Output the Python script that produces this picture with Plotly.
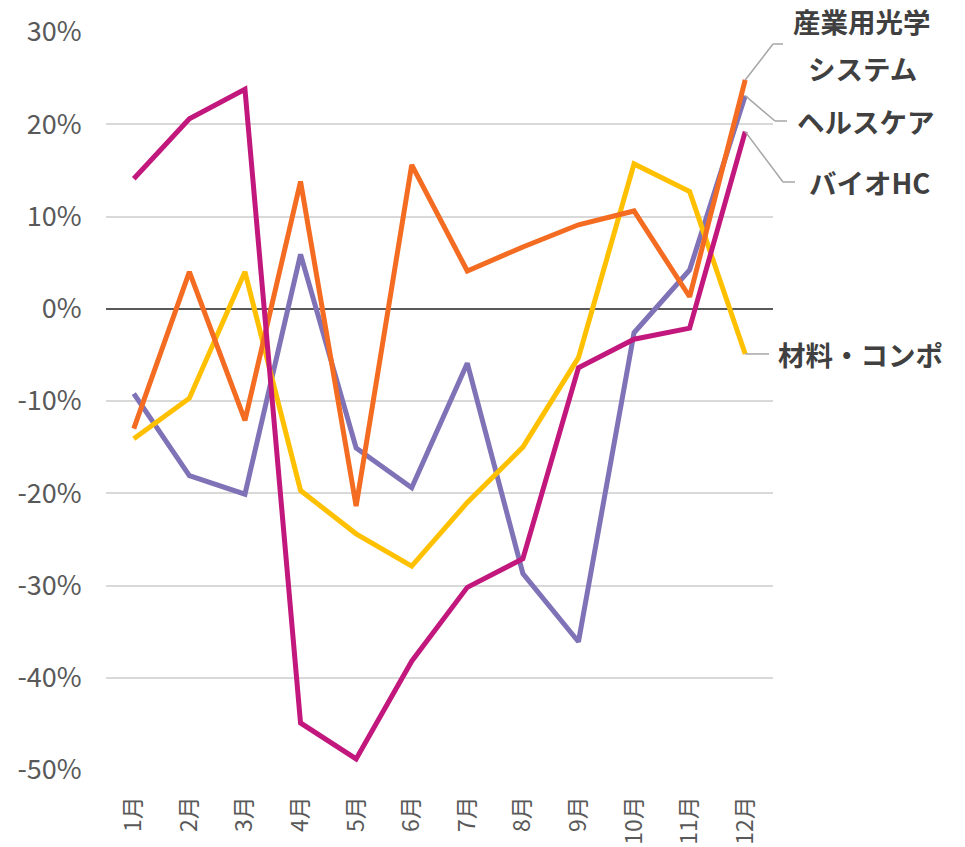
import plotly.graph_objects as go

months = ["1月", "2月", "3月", "4月", "5月", "6月", "7月", "8月", "9月", "10月", "11月", "12月"]

sangyo = [-13.0, 4.0, -12.1, 13.8, -21.4, 15.6, 4.1, 6.7, 9.1, 10.6, 1.3, 24.8]
health = [-9.2, -18.1, -20.1, 5.9, -15.1, -19.4, -5.9, -28.7, -36.1, -2.6, 4.2, 23.1]
bio = [14.1, 20.6, 23.8, -44.9, -48.8, -38.2, -30.2, -27.1, -6.4, -3.3, -2.1, 19.2]
zairyo = [-14.1, -9.7, 4.0, -19.7, -24.4, -27.9, -21.0, -15.0, -5.3, 15.7, 12.7, -4.9]

series_names = ["産業用光学システム", "ヘルスケア", "バイオHC", "材料・コンポ"]
series_values = [sangyo, health, bio, zairyo]
colors = ["#F36C21", "#7F72B6", "#C2187D", "#FFC000"]

y_ticks = [30, 20, 10, 0, -10, -20, -30, -40, -50]
y_ticktext = ["30%", "20%", "10%", "0%", "-10%", "-20%", "-30%", "-40%", "-50%"]

Y_MIN, Y_MAX = -50, 30
W, H = 965, 847
OFF = 8  # page body margin
ML, MR, MT, MB = 98, 200, 24, 85
PW = W - ML - MR
PH = H - MT - MB

fig = go.Figure()
order = [1, 3, 0, 2]
for i in order:
    fig.add_trace(go.Scatter(
        x=months, y=series_values[i], mode="lines", name=series_names[i],
        line=dict(color=colors[i], width=5), showlegend=False, cliponaxis=False,
    ))

def vy(v):
    return (v - Y_MIN) / (Y_MAX - Y_MIN)

def px_x(p):
    return (p - OFF - ML) / PW

def px_y(p):
    return (H - MB - (p - OFF)) / PH

last_x = (len(months) - 0.5) / len(months)

# page-pixel layout of leader-line elbows and label text
label_pos = [
    dict(elbow=(773, 44), end=(783, 44), texts=[("産業用光学", 862, 21), ("システム", 862, 68)]),
    dict(elbow=(775, 121), end=(787, 121), texts=[("ヘルスケア", 866, 121)]),
    dict(elbow=(783, 182), end=(795, 182), texts=[("バイオHC", 869, 182)]),
    dict(elbow=(769, None), end=(769, None), texts=[("材料・コンポ", 861, None)]),
]

shapes = []
annotations = []
for i, vals in enumerate(series_values):
    lp = label_pos[i]
    y0 = vy(vals[-1])
    ey = px_y(lp["elbow"][1]) if lp["elbow"][1] is not None else y0
    shapes.append(dict(type="line", xref="paper", yref="paper",
                       x0=last_x, y0=y0, x1=px_x(lp["elbow"][0]), y1=ey,
                       line=dict(color="#A6A6A6", width=1.5)))
    if lp["end"][0] != lp["elbow"][0]:
        shapes.append(dict(type="line", xref="paper", yref="paper",
                           x0=px_x(lp["elbow"][0]), y0=ey, x1=px_x(lp["end"][0]), y1=ey,
                           line=dict(color="#A6A6A6", width=1.5)))
    for (t, tx, typ) in lp["texts"]:
        annotations.append(dict(
            xref="paper", yref="paper", x=px_x(tx),
            y=px_y(typ) if typ is not None else ey,
            text=t, showarrow=False, xanchor="center", yanchor="middle",
            font=dict(family="Noto Sans CJK JP", size=27.5, color="#404040", weight="bold"),
        ))

fig.update_layout(
    width=W, height=H,
    margin=dict(l=ML, r=MR, t=MT, b=MB, pad=0, autoexpand=False),
    plot_bgcolor="white", paper_bgcolor="white",
    font=dict(family="Noto Sans CJK JP", color="#595959"),
    shapes=shapes, annotations=annotations,
    xaxis=dict(
        type="category", categoryorder="array", categoryarray=months,
        range=[-0.5, len(months) - 0.5], automargin=False,
        showgrid=False, zeroline=False, showline=False,
        tickangle=-90, tickfont=dict(size=23, color="#595959"),
        ticks="outside", ticklen=16, tickcolor="rgba(0,0,0,0)",
    ),
    yaxis=dict(
        range=[Y_MIN, Y_MAX], tickvals=y_ticks, ticktext=y_ticktext, automargin=False,
        showgrid=True, gridcolor="#D9D9D9", gridwidth=1.5,
        zeroline=True, zerolinecolor="#595959", zerolinewidth=2,
        showline=False, tickfont=dict(size=27, color="#595959"),
        ticks="outside", ticklen=18, tickcolor="rgba(0,0,0,0)",
    ),
)

fig.write_html("out.html")
